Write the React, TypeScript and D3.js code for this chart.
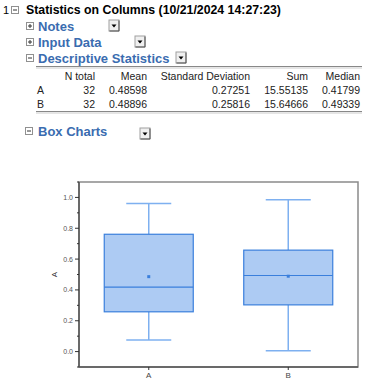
import React from "react";
import * as d3 from "d3";

const categories = ["A", "B"];
const nTotal = [32, 32];
const means = [0.48598, 0.48896];
const stdDevs = [0.27251, 0.25816];
const sums = [15.55135, 15.64666];
const medians = [0.41799, 0.49339];
const q1s = [0.258, 0.303];
const q3s = [0.761, 0.658];
const whiskerLows = [0.075, 0.006];
const whiskerHighs = [0.961, 0.985];
const yTicks = [0, 0.2, 0.4, 0.6, 0.8, 1.0];
const yMinorTicks = [-0.1, 0.1, 0.3, 0.5, 0.7, 0.9, 1.1];
const tableHeaders = ["N total", "Mean", "Standard Deviation", "Sum", "Median"];
const sections = ["Notes", "Input Data", "Descriptive Statistics"];

const W = 380;
const H = 389;

function DropButton({ x, y }: { x: number; y: number }) {
  return (
    <g transform={`translate(${x},${y})`}>
      <rect x={0} y={0} width={10} height={11} fill="#f0f0f0" stroke="#a0a0a0" strokeWidth={1} />
      <line x1={10} y1={0.5} x2={10} y2={11} stroke="#505050" />
      <line x1={0.5} y1={11} x2={10} y2={11} stroke="#505050" />
      <path d="M2.5,4.5 L7.5,4.5 L5,7.5 Z" fill="#000" />
    </g>
  );
}

function ToggleBox({ x, y, plus }: { x: number; y: number; plus: boolean }) {
  return (
    <g transform={`translate(${x},${y})`}>
      <rect x={0.5} y={0.5} width={7} height={7} fill="#fff" stroke="#909090" strokeWidth={1} />
      <line x1={2} y1={4} x2={6} y2={4} stroke="#333" />
      {plus && <line x1={4} y1={2} x2={4} y2={6} stroke="#333" />}
    </g>
  );
}

export default function App() {
  const left = 79, right = 358, top = 182, bottom = 367;
  const y = d3.scaleLinear().domain([-0.1, 1.1]).range([bottom, top]);
  const x = d3.scalePoint<string>().domain(categories).range([left, right]).padding(0.5);
  const boxW = 89;
  const capW = 45;
  const fill = "#adcbf3";
  const stroke = "#3a7fdc";
  const whiskerColor = "#7eb0f0";

  const blue = "#3a6cb0";
  const tableFont = "Liberation Sans, Arial, sans-serif";
  const colRight = [95, 147, 250, 308, 360];
  const rows = categories.map((c, i) => [
    String(nTotal[i]),
    means[i].toFixed(5),
    stdDevs[i].toFixed(5),
    sums[i].toFixed(5),
    medians[i].toFixed(5),
  ]);

  return (
    <svg width={W} height={H} style={{ position: "absolute", left: 0, top: 0, background: "#fff" }}>
      {/* Header */}
      <text x={3} y={14} fontFamily={tableFont} fontSize={11} fill="#000">1</text>
      <ToggleBox x={11} y={6} plus={false} />
      <text x={26} y={14} fontFamily={tableFont} fontSize={12.3} fontWeight="bold" fill="#000">
        Statistics on Columns (10/21/2024 14:27:23)
      </text>
      {sections.map((s, i) => (
        <g key={s}>
          <ToggleBox x={26} y={22 + i * 16} plus={i < 2} />
          <text x={38} y={31 + i * 16} fontFamily={tableFont} fontSize={13} fontWeight="bold" fill={blue}>
            {s}
          </text>
        </g>
      ))}
      <DropButton x={109} y={20} />
      <DropButton x={135} y={36} />
      <DropButton x={176} y={52} />

      {/* Table */}
      <line x1={36} x2={362} y1={66.5} y2={66.5} stroke="#888" />
      <line x1={36} x2={362} y1={68} y2={68} stroke="#ccc" />
      {tableHeaders.map((h, j) => (
        <text key={h} x={colRight[j]} y={80} textAnchor="end" fontFamily={tableFont} fontSize={10.5} fill="#222">
          {h}
        </text>
      ))}
      {rows.map((r, i) => (
        <g key={categories[i]}>
          <text x={37} y={94 + i * 14} fontFamily={tableFont} fontSize={10.5} fill="#222">{categories[i]}</text>
          {r.map((v, j) => (
            <text key={j} x={colRight[j]} y={94 + i * 14} textAnchor="end" fontFamily={tableFont} fontSize={10.5} fill="#222">
              {v}
            </text>
          ))}
        </g>
      ))}
      <line x1={36} x2={362} y1={111.5} y2={111.5} stroke="#888" />
      <line x1={36} x2={362} y1={113} y2={113} stroke="#ccc" />

      {/* Box Charts header */}
      <ToggleBox x={25} y={127} plus={false} />
      <text x={38} y={136} fontFamily={tableFont} fontSize={13} fontWeight="bold" fill={blue}>Box Charts</text>
      <DropButton x={140} y={128} />

      {/* Plot frame */}
      <rect x={left} y={top} width={right - left} height={bottom - top} fill="#fff" stroke="#8a8a8a" strokeWidth={1.5} />
      <line x1={left} x2={left} y1={top} y2={bottom} stroke="#555" strokeWidth={1.5} />
      <line x1={left} x2={right} y1={bottom} y2={bottom} stroke="#555" strokeWidth={1.5} />

      {/* Y axis ticks */}
      {yTicks.map((t) => (
        <g key={t}>
          <line x1={left - 4} x2={left} y1={y(t)} y2={y(t)} stroke="#333" />
          <text x={left - 6} y={y(t) + 2.5} textAnchor="end" fontFamily={tableFont} fontSize={7} fill="#555">
            {t.toFixed(1)}
          </text>
        </g>
      ))}
      {yMinorTicks.map((t) => (
        <line key={t} x1={left - 2} x2={left} y1={y(t)} y2={y(t)} stroke="#333" />
      ))}
      <text
        transform={`translate(${57},${y(0.5)}) rotate(-90)`}
        textAnchor="middle"
        fontFamily={tableFont}
        fontSize={8}
        fill="#333"
      >
        A
      </text>

      {/* X axis */}
      {categories.map((c) => (
        <g key={c}>
          <line x1={x(c)!} x2={x(c)!} y1={bottom} y2={bottom + 3} stroke="#333" />
          <text x={x(c)!} y={bottom + 11} textAnchor="middle" fontFamily={tableFont} fontSize={8} fill="#444">
            {c}
          </text>
        </g>
      ))}

      {/* Boxes */}
      {categories.map((c, i) => {
        const cx = x(c)!;
        return (
          <g key={c}>
            <line x1={cx} x2={cx} y1={y(whiskerHighs[i])} y2={y(q3s[i])} stroke={whiskerColor} strokeWidth={1.5} />
            <line x1={cx} x2={cx} y1={y(q1s[i])} y2={y(whiskerLows[i])} stroke={whiskerColor} strokeWidth={1.5} />
            <line x1={cx - capW / 2} x2={cx + capW / 2} y1={y(whiskerHighs[i])} y2={y(whiskerHighs[i])} stroke={whiskerColor} strokeWidth={1.5} />
            <line x1={cx - capW / 2} x2={cx + capW / 2} y1={y(whiskerLows[i])} y2={y(whiskerLows[i])} stroke={whiskerColor} strokeWidth={1.5} />
            <rect
              x={cx - boxW / 2}
              y={y(q3s[i])}
              width={boxW}
              height={y(q1s[i]) - y(q3s[i])}
              fill={fill}
              stroke={stroke}
              strokeWidth={1.2}
            />
            <line x1={cx - boxW / 2} x2={cx + boxW / 2} y1={y(medians[i])} y2={y(medians[i])} stroke={stroke} strokeWidth={1.2} />
            <rect x={cx - 1.5} y={y(means[i]) - 1.5} width={3} height={3} fill={stroke} />
          </g>
        );
      })}
    </svg>
  );
}
